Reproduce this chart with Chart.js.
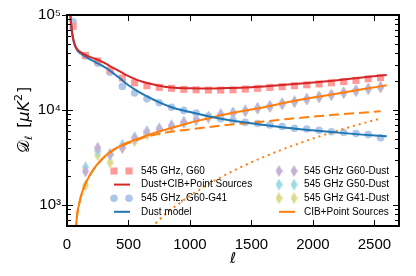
<!DOCTYPE html>
<html>
<head>
<meta charset="utf-8">
<script src="https://cdn.jsdelivr.net/npm/chart.js@4.4.1/dist/chart.umd.min.js"></script>
<style>
  html, body { margin: 0; padding: 0; background: #fff; }
  #wrap { width: 416px; height: 276px; }
</style>
</head>
<body>
<div id="wrap"><canvas id="myChart" width="416" height="276"></canvas></div>
<script>
// ---- binned spectra (bin centres in multipole) ----
const binEll = [50,150,250,350,450,550,650,750,850,950,1050,1150,1250,1350,1450,1550,1650,1750,1850,1950,2050,2150,2250,2350,2450,2550];
const g60 = [7.6e4,3.75e4,3.28e4,2.63e4,2.17e4,1.93e4,1.80e4,1.73e4,1.69e4,1.65e4,1.63e4,1.62e4,1.62e4,1.63e4,1.66e4,1.69e4,1.73e4,1.76e4,1.80e4,1.84e4,1.88e4,1.93e4,1.99e4,2.05e4,2.13e4,2.19e4];
const g60g41 = [8.5e4,3.7e4,3.1e4,2.5e4,1.77e4,1.51e4,1.31e4,1.19e4,1.07e4,9.9e3,9.3e3,8.6e3,8.1e3,7.8e3,7.4e3,7.2e3,6.95e3,6.7e3,6.4e3,6.3e3,6.1e3,5.9e3,5.8e3,5.65e3,5.5e3,5.1e3];

const dustSubEll = [150,250,350,450,550,650,750,850,950,1050,1150,1250,1350,1450,1550,1650,1750,1850,1950,2050,2150,2250,2350,2450,2550];
const g60Dust = [2.26e3,4.0e3,3.4e3,4.0e3,5.0e3,5.8e3,6.3e3,6.8e3,7.4e3,7.9e3,8.4e3,8.9e3,9.3e3,9.8e3,1.04e4,1.09e4,1.16e4,1.22e4,1.30e4,1.37e4,1.44e4,1.52e4,1.60e4,1.67e4,1.74e4];
const g50Dust = [2.5e3,3.7e3,3.42e3,4.3e3,5.2e3,5.95e3,6.4e3,6.9e3,7.5e3,8.0e3,8.5e3,9.0e3,9.4e3,9.9e3,1.05e4,1.10e4,1.17e4,1.23e4,1.31e4,1.38e4,1.45e4,1.53e4,1.61e4,1.68e4,1.75e4];
const g41Dust = [1.6e3,3.35e3,2.8e3,4.0e3,4.7e3,5.5e3,6.1e3,6.6e3,7.3e3,7.8e3,8.3e3,8.8e3,9.2e3,9.7e3,1.03e4,1.08e4,1.15e4,1.21e4,1.29e4,1.36e4,1.43e4,1.51e4,1.59e4,1.66e4,1.73e4];

// ---- model curves ----
const modelEll = [27,40,55,80,110,140,180,220,270,320,380,440,500,580,660,750,850,1000,1150,1300,1450,1600,1800,2000,2200,2400,2600];
const dustModel = [1.0e5,6.6e4,5.2e4,4.3e4,3.95e4,3.7e4,3.45e4,3.25e4,3.0e4,2.75e4,2.42e4,2.1e4,1.82e4,1.56e4,1.37e4,1.2e4,1.07e4,9.5e3,8.6e3,7.9e3,7.4e3,6.95e3,6.45e3,6.1e3,5.78e3,5.5e3,5.28e3];
const totalModel = [1.0e5,6.8e4,5.3e4,4.4e4,4.07e4,3.85e4,3.65e4,3.49e4,3.29e4,3.05e4,2.75e4,2.5e4,2.27e4,2.05e4,1.91e4,1.8e4,1.72e4,1.69e4,1.68e4,1.70e4,1.72e4,1.77e4,1.85e4,1.95e4,2.06e4,2.2e4,2.33e4];

const cibPsEll = [70,80,110,140,180,220,270,320,380,440,500,580,660,750,850,1000,1150,1300,1450,1600,1800,2000,2200,2400,2600];
const cibPs = [500,740,1180,1560,2000,2420,2900,3350,3850,4220,4570,5000,5450,5950,6450,7350,8150,9050,9850,10700,12100,13500,14900,16500,18200];

const cibEll = [70,80,110,140,180,220,270,320,380,440,500,580,660,750,850,1000,1150,1300,1450,1600,1800,2000,2200,2400,2550];
const cibClustered = [500,740,1180,1555,1990,2400,2880,3320,3800,4150,4480,4880,5270,5620,5900,6250,6600,6950,7250,7550,8050,8500,8950,9350,9700];

const psEll = [680,700,800,900,1000,1200,1400,1600,1800,2000,2200,2400,2550];
const pointSources = [590,610,800,1010,1250,1800,2450,3200,4050,5000,6050,7200,8100];

// ---- axes ----
const xTicks = [0,500,1000,1500,2000,2500];
const yTicks = [1e3,1e4,1e5];
const yTickLabels = ['10\u00B3','10\u2074','10\u2075'];

// legend layout: two columns of dataset labels
const legendCols = [
    ['545 GHz, G60','Dust+CIB+Point Sources','545 GHz, G60-G41','Dust model'],
    ['545 GHz G60-Dust','545 GHz G50-Dust','545 GHz G41-Dust','CIB+Point Sources']
];

function pairs(xs, ys) {
    return xs.map((x, i) => ({x: x, y: ys[i]}));
}

// thin diamond marker
function thinDiamond(color) {
    const c = document.createElement('canvas');
    c.width = 7; c.height = 12;
    const g = c.getContext('2d');
    g.fillStyle = color;
    g.beginPath();
    g.moveTo(3.5, 0); g.lineTo(7, 6); g.lineTo(3.5, 12); g.lineTo(0, 6);
    g.closePath(); g.fill();
    return c;
}

document.addEventListener('DOMContentLoaded', function() {
    const ctx = document.getElementById('myChart').getContext('2d');
    const FONT = "'Liberation Sans', Arial, sans-serif";

    function lineSet(label, xs, ys, color, dash) {
        return {
            type: 'line', label: label, data: pairs(xs, ys),
            borderColor: color, backgroundColor: color, borderWidth: 2,
            borderDash: dash || [], pointRadius: 0, showLine: true,
            cubicInterpolationMode: 'monotone', fill: false, order: 0
        };
    }
    function pointSet(label, xs, ys, color, style, radius) {
        return {
            label: label, data: pairs(xs, ys), showLine: false,
            backgroundColor: color, borderColor: color, pointBorderWidth: 0,
            pointStyle: style, pointRadius: radius, order: 1
        };
    }

    const datasets = [
        pointSet('545 GHz, G60', binEll, g60, '#ff9896', 'rect', 5),
        pointSet('545 GHz, G60-G41', binEll, g60g41, '#aec7e8', 'circle', 3.8),
        pointSet('545 GHz G60-Dust', dustSubEll, g60Dust, '#c5b0d5', thinDiamond('#c5b0d5'), 4),
        pointSet('545 GHz G50-Dust', dustSubEll, g50Dust, '#9edae5', thinDiamond('#9edae5'), 4),
        pointSet('545 GHz G41-Dust', dustSubEll, g41Dust, '#dbdb8d', thinDiamond('#dbdb8d'), 4),
        lineSet('Dust+CIB+Point Sources', modelEll, totalModel, '#d62728'),
        lineSet('Dust model', modelEll, dustModel, '#1f77b4'),
        lineSet('CIB+Point Sources', cibPsEll, cibPs, '#ff7f0e'),
        lineSet('', cibEll, cibClustered, '#ff7f0e', [10, 5]),
        lineSet('', psEll, pointSources, '#ff7f0e', [2, 4])
    ];

    // frame, inward ticks, axis titles and legend
    const decor = {
        id: 'decor',
        afterDatasetsDraw(chart) {
            const c = chart.ctx, a = chart.chartArea;
            const xs = chart.scales.x, ys = chart.scales.y;
            const seg = (x1, y1, x2, y2) => { c.beginPath(); c.moveTo(x1, y1); c.lineTo(x2, y2); c.stroke(); };
            c.save();
            c.strokeStyle = '#000';
            c.lineWidth = 1;
            xTicks.forEach(v => {
                const px = Math.round(xs.getPixelForValue(v)) + 0.5;
                seg(px, a.bottom, px, a.bottom - 6);
                seg(px, a.top, px, a.top + 6);
            });
            for (let d = 100; d <= 1e4; d *= 10) {
                for (let m = 2; m <= 9; m++) {
                    const v = m * d;
                    if (v < ys.min || v > ys.max) continue;
                    const py = Math.round(ys.getPixelForValue(v)) + 0.5;
                    seg(a.left, py, a.left + 4, py);
                    seg(a.right, py, a.right - 4, py);
                }
            }
            yTicks.forEach(v => {
                const py = Math.round(ys.getPixelForValue(v)) + 0.5;
                seg(a.left - 5, py, a.left + 6, py);
                seg(a.right, py, a.right - 6, py);
            });
            c.lineWidth = 2;
            c.strokeRect(a.left, a.top, a.right - a.left, a.bottom - a.top);

            // axis titles
            c.fillStyle = '#000';
            c.textBaseline = 'alphabetic';
            c.font = "italic 15px 'DejaVu Sans'";
            c.textAlign = 'center';
            c.fillText('\u2113', (a.left + a.right) / 2, 263);

            c.save();
            c.translate(29, 153);
            c.rotate(-Math.PI / 2);
            c.textAlign = 'left';
            let x = 0;
            const put = (t, font, dy) => { c.font = font; c.fillText(t, x, dy || 0); x += c.measureText(t).width; };
            put('\uD835\uDC9F', "16px 'DejaVu Sans'");
            put('\u2113', "italic 10px 'DejaVu Sans'", 3);
            x += 8;
            put('[', "16px 'DejaVu Sans'");
            put('\u03BC', "italic 16px 'DejaVu Sans'");
            put('K', "italic 16px 'DejaVu Sans'");
            put('2', "11px 'DejaVu Sans'", -7);
            x += 1;
            put(']', "16px 'DejaVu Sans'");
            c.restore();

            // legend
            c.font = '10px ' + FONT;
            c.textAlign = 'left';
            c.textBaseline = 'middle';
            const colX = [{h: 114, t: 141}, {h: 279, t: 304}];
            legendCols.forEach((labels, ci) => {
                labels.forEach((lab, ri) => {
                    const ds = chart.data.datasets.find(d => d.label === lab);
                    const y = 171 + ri * 13.6;
                    const h = colX[ci].h;
                    if (ds.showLine) {
                        c.strokeStyle = ds.borderColor;
                        c.lineWidth = 2;
                        seg(h, y, h + 16, y);
                    } else {
                        c.fillStyle = ds.backgroundColor;
                        [h, h + 15].forEach(px => Chart.helpers.drawPoint(c, {
                            pointStyle: ds.pointStyle, radius: ds.pointRadius, rotation: 0, borderWidth: 0
                        }, px, y));
                    }
                    c.fillStyle = '#000';
                    c.fillText(lab, colX[ci].t, y);
                });
            });
            c.restore();
        }
    };

    new Chart(ctx, {
        type: 'scatter',
        data: { datasets: datasets },
        options: {
            responsive: false,
            animation: false,
            events: [],
            layout: { padding: { top: 11, right: 17, left: 0, bottom: 0 } },
            plugins: { legend: { display: false }, tooltip: { enabled: false } },
            scales: {
                x: {
                    type: 'linear', min: 0, max: 2700,
                    grid: { display: false, drawTicks: false },
                    border: { display: false },
                    afterBuildTicks: s => { s.ticks = xTicks.map(v => ({value: v})); },
                    afterFit: s => { s.height = 50; },
                    ticks: {
                        color: '#000', padding: 10, maxRotation: 0, autoSkip: false,
                        font: { family: FONT, size: 15 },
                        callback: v => String(v)
                    }
                },
                y: {
                    type: 'logarithmic', min: 600, max: 1e5,
                    grid: { display: false, drawTicks: false },
                    border: { display: false },
                    afterBuildTicks: s => { s.ticks = yTicks.map(v => ({value: v, major: true})); },
                    afterFit: s => { s.width = 67; },
                    ticks: {
                        color: '#000', padding: 6, autoSkip: false,
                        font: { family: FONT, size: 15 },
                        callback: v => yTickLabels[yTicks.indexOf(v)] || ''
                    }
                }
            }
        },
        plugins: [decor]
    });
});
</script>
</body>
</html>
